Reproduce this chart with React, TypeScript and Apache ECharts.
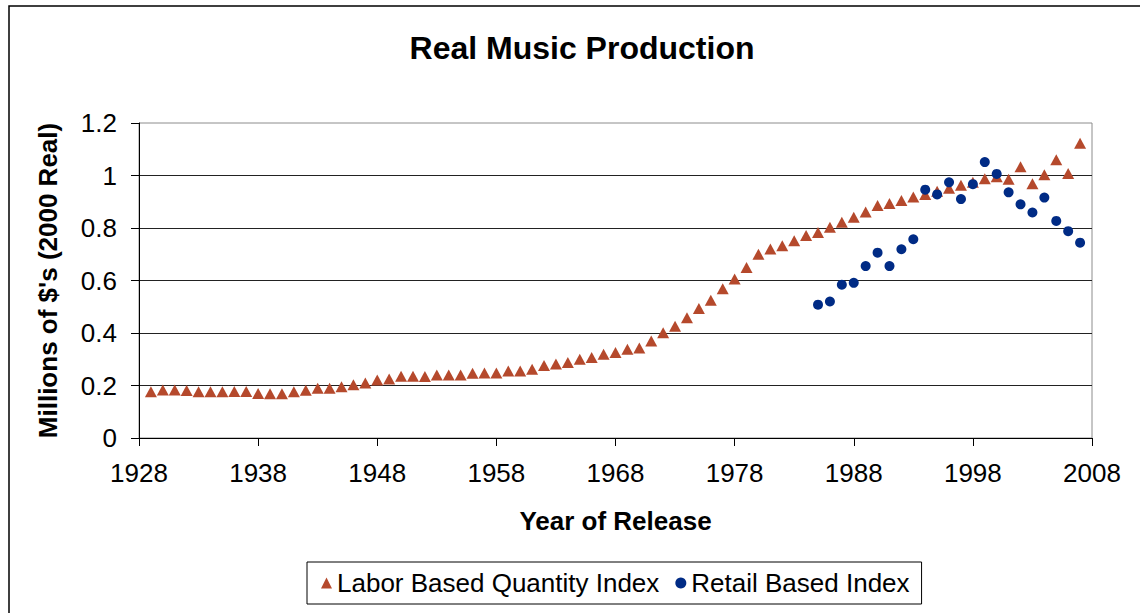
import React, { useEffect, useRef } from "react";
import * as echarts from "echarts";

const FONT = "'Liberation Sans', Arial, sans-serif";

const titleText = "Real Music Production";
const xAxisTitle = "Year of Release";
const yAxisTitle = "Millions of $'s (2000 Real)";
const laborName = "Labor Based Quantity Index";
const retailName = "Retail Based Index";

const xTickMin = 1928;
const xTickMax = 2008;
const xTickStep = 10;
const yTickMin = 0;
const yTickMax = 1.2;
const yTickStep = 0.2;

const laborStartYear = 1929;
const laborValues = [
  0.176, 0.183, 0.183, 0.181, 0.176, 0.176, 0.176, 0.177, 0.177, 0.17,
  0.169, 0.169, 0.176, 0.182, 0.19, 0.19, 0.195, 0.203, 0.21, 0.221,
  0.225, 0.235, 0.235, 0.234, 0.24, 0.24, 0.24, 0.247, 0.248, 0.248,
  0.255, 0.255, 0.262, 0.276, 0.282, 0.288, 0.3, 0.307, 0.319, 0.326,
  0.338, 0.343, 0.37, 0.401, 0.426, 0.458, 0.493, 0.525, 0.569, 0.606,
  0.65, 0.7, 0.72, 0.732, 0.751, 0.771, 0.783, 0.803, 0.822, 0.841,
  0.861, 0.886, 0.893, 0.905, 0.918, 0.928, 0.94, 0.951, 0.963, 0.974,
  0.988, 0.995, 0.986, 1.033, 0.969, 1.003, 1.06, 1.008, 1.123,
];

const retailStartYear = 1985;
const retailValues = [
  0.508, 0.52, 0.584, 0.591, 0.655, 0.706, 0.655, 0.719, 0.757, 0.946,
  0.928, 0.974, 0.91, 0.967, 1.051, 1.006, 0.936, 0.89, 0.859, 0.916,
  0.827, 0.788, 0.744,
];

const laborColor = "#B5492C";
const retailColor = "#002B85";

export default function App() {
  const ref = useRef<HTMLDivElement>(null);

  useEffect(() => {
    if (!ref.current) return;
    const chart = echarts.init(ref.current, null, { renderer: "svg" });
    const laborData = laborValues.map((v, i) => [laborStartYear + i, v]);
    const retailData = retailValues.map((v, i) => [retailStartYear + i, v]);

    chart.setOption({
      animation: false,
      backgroundColor: "#fff",
      textStyle: { fontFamily: FONT },
      title: {
        text: titleText,
        left: 577,
        textAlign: "center",
        top: 27,
        textStyle: { fontFamily: FONT, fontSize: 32, fontWeight: "bold", color: "#000" },
      },
      graphic: [
        {
          type: "rect",
          shape: { x: 9, y: 6, width: 1200, height: 700 },
          style: { fill: "none", stroke: "#000", lineWidth: 1.5 },
          silent: true,
          z: 100,
        },
      ],
      grid: {
        left: 139,
        right: 48,
        top: 123,
        bottom: 175,
        show: true,
        borderColor: "#8c8c8c",
        borderWidth: 1,
        backgroundColor: "#fff",
      },
      legend: {
        left: 307,
        top: 562,
        padding: [8, 12, 8, 14],
        itemGap: 16,
        itemWidth: 11,
        itemHeight: 11,
        borderColor: "#000",
        borderWidth: 1,
        textStyle: { fontFamily: FONT, fontSize: 26, color: "#000" },
        data: [
          { name: laborName, icon: "triangle" },
          { name: retailName, icon: "circle" },
        ],
      },
      xAxis: {
        type: "value",
        min: xTickMin,
        max: xTickMax,
        interval: xTickStep,
        name: xAxisTitle,
        nameLocation: "middle",
        nameGap: 70,
        nameTextStyle: { fontFamily: FONT, fontSize: 26, fontWeight: "bold", color: "#000" },
        axisLine: { show: true, onZero: false, lineStyle: { color: "#000", width: 1 } },
        axisTick: { show: true, inside: false, length: 8, lineStyle: { color: "#000" } },
        axisLabel: {
          fontFamily: FONT,
          fontSize: 26,
          color: "#000",
          margin: 22,
          formatter: (v: number) => String(v),
        },
        splitLine: { show: false },
      },
      yAxis: {
        type: "value",
        min: yTickMin,
        max: yTickMax,
        interval: yTickStep,
        name: yAxisTitle,
        nameLocation: "middle",
        nameGap: 78,
        nameRotate: 90,
        nameTextStyle: { fontFamily: FONT, fontSize: 26, fontWeight: "bold", color: "#000" },
        axisLine: { show: true, lineStyle: { color: "#000", width: 1 } },
        axisTick: { show: true, inside: false, length: 8, lineStyle: { color: "#000" } },
        axisLabel: {
          fontFamily: FONT,
          fontSize: 26,
          color: "#000",
          margin: 22,
          formatter: (v: number) => String(Math.round(v * 10) / 10),
        },
        splitLine: { show: true, showMaxLine: false, lineStyle: { color: "#222", width: 1 } },
      },
      series: [
        {
          name: laborName,
          type: "scatter",
          symbol: "triangle",
          symbolSize: [12, 11],
          itemStyle: { color: laborColor, opacity: 1 },
          data: laborData,
          z: 2,
        },
        {
          name: retailName,
          type: "scatter",
          symbol: "circle",
          symbolSize: 10,
          itemStyle: { color: retailColor, opacity: 1 },
          data: retailData,
          z: 3,
        },
      ],
    });

    return () => chart.dispose();
  }, []);

  return (
    <div
      ref={ref}
      style={{ position: "absolute", left: 0, top: 0, width: 1140, height: 613 }}
    />
  );
}
